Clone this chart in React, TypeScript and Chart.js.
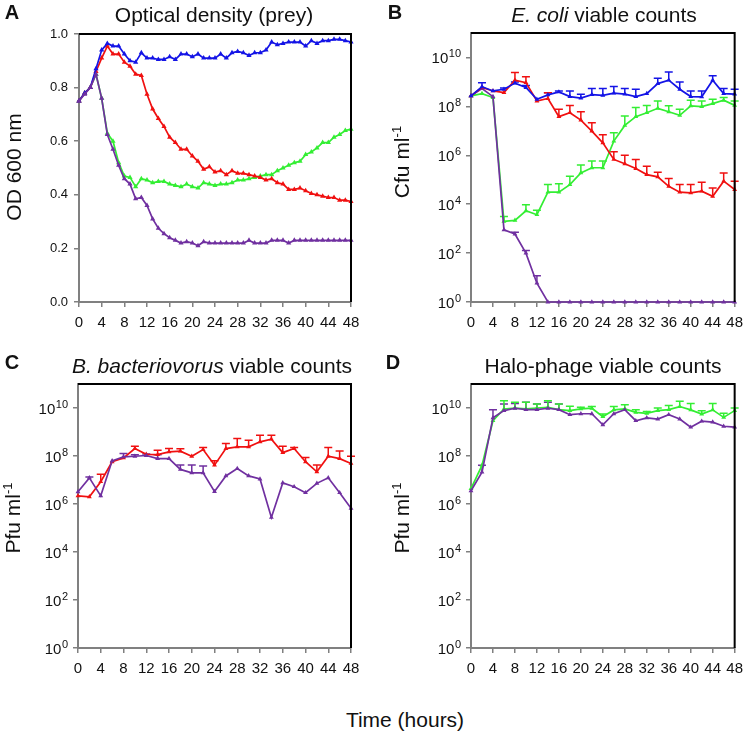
import React, { useEffect, useRef } from 'react';
import { Chart, registerables } from 'chart.js';
Chart.register(...registerables);

const FONT = '"Liberation Sans", Arial, Helvetica, sans-serif';

// ---------- Panel A: optical density (hourly) ----------
const hoursA = [0,1,2,3,4,5,6,7,8,9,10,11,12,13,14,15,16,17,18,19,20,21,22,23,24,25,26,27,28,29,30,31,32,33,34,35,36,37,38,39,40,41,42,43,44,45,46,47,48];
const odBlue = [0.75,0.78,0.80,0.87,0.94,0.965,0.955,0.955,0.925,0.90,0.895,0.93,0.91,0.91,0.905,0.905,0.915,0.905,0.925,0.925,0.915,0.925,0.91,0.91,0.91,0.925,0.91,0.93,0.935,0.93,0.92,0.93,0.93,0.94,0.97,0.96,0.965,0.97,0.97,0.97,0.955,0.975,0.965,0.975,0.975,0.98,0.98,0.975,0.97];
const odRed = [0.75,0.78,0.80,0.86,0.91,0.955,0.925,0.925,0.895,0.88,0.85,0.845,0.775,0.72,0.685,0.655,0.615,0.595,0.57,0.57,0.545,0.525,0.495,0.505,0.485,0.49,0.475,0.49,0.48,0.48,0.475,0.47,0.465,0.455,0.46,0.445,0.44,0.42,0.42,0.425,0.415,0.405,0.40,0.395,0.39,0.39,0.38,0.38,0.375];
const odGreen = [0.75,0.78,0.80,0.85,0.76,0.63,0.60,0.52,0.47,0.465,0.43,0.46,0.455,0.445,0.45,0.45,0.44,0.435,0.43,0.44,0.43,0.425,0.445,0.44,0.435,0.44,0.44,0.445,0.455,0.455,0.46,0.465,0.47,0.475,0.475,0.49,0.50,0.51,0.52,0.525,0.55,0.56,0.575,0.595,0.595,0.615,0.625,0.64,0.645];
const odPurple = [0.75,0.775,0.80,0.85,0.76,0.625,0.57,0.51,0.46,0.44,0.385,0.39,0.36,0.31,0.275,0.255,0.24,0.23,0.22,0.225,0.22,0.21,0.225,0.22,0.22,0.22,0.22,0.22,0.22,0.22,0.23,0.22,0.22,0.22,0.23,0.23,0.23,0.22,0.23,0.23,0.23,0.23,0.23,0.23,0.23,0.23,0.23,0.23,0.23];
const odTicks = [0, 0.2, 0.4, 0.6, 0.8, 1.0];

// ---------- Panels B-D: viable counts every 2 h (log10 values) ----------
const hours2 = [0,2,4,6,8,10,12,14,16,18,20,22,24,26,28,30,32,34,36,38,40,42,44,46,48];

// B: E. coli cfu/ml (log10)
const ecBlueLog = [8.43,8.80,8.63,8.70,8.95,8.77,8.29,8.47,8.59,8.40,8.34,8.48,8.45,8.54,8.50,8.40,8.52,8.93,9.07,8.70,8.40,8.39,9.07,8.52,8.50];
const ecBlueErrLog = [null,8.97,null,8.75,9.0,8.85,null,8.56,8.63,8.63,8.50,8.73,8.73,8.81,8.73,8.70,null,9.15,9.41,9.00,8.63,8.63,9.25,8.73,8.70];
const ecRedLog = [8.43,8.77,8.63,8.56,9.07,8.97,8.22,8.32,7.58,7.74,7.44,6.99,6.51,5.83,5.65,5.46,5.21,5.12,4.73,4.49,4.46,4.53,4.32,4.94,4.60];
const ecRedErrLog = [null,null,null,null,9.38,9.21,null,8.56,7.88,8.04,7.78,7.33,6.84,6.14,6.0,5.83,5.55,5.31,5.05,4.80,4.80,4.90,4.66,5.28,4.94];
const ecGreenLog = [8.43,8.52,8.36,3.30,3.34,3.73,3.57,4.49,4.49,4.80,5.28,5.49,5.49,6.58,7.22,7.58,7.74,7.92,7.78,7.63,8.02,7.99,8.11,8.25,8.04];
const ecGreenErrLog = [null,null,null,3.50,null,3.98,3.75,4.80,4.84,5.14,5.60,5.77,5.77,6.92,7.61,7.95,8.04,8.22,8.02,7.88,8.25,8.22,8.29,8.36,8.22];
const ecPurpleLog = [8.43,8.73,8.40,2.95,2.78,2.0,0.77,0,0,0,0,0,0,0,0,0,0,0,0,0,0,0,0,0,0];
const ecPurpleErrLog = [null,null,null,null,2.85,2.11,1.07,null,null,null,null,null,null,null,null,null,null,null,null,null,null,null,null,null,null];

// C: B. bacteriovorus pfu/ml (log10)
const bdRedLog = [6.34,6.30,6.93,7.76,7.92,8.31,8.07,8.06,8.17,8.20,7.99,8.27,7.62,8.31,8.38,8.38,8.59,8.70,8.14,8.31,7.76,7.34,7.99,7.89,7.69];
const bdRedErrLog = [null,null,7.24,null,null,8.41,null,8.24,8.31,8.30,null,8.35,7.80,8.52,8.73,8.66,8.86,8.86,8.41,8.35,7.94,7.62,8.35,8.21,7.99];
const bdPurpleLog = [6.51,7.09,6.34,7.80,7.96,7.99,8.02,7.89,7.89,7.44,7.30,7.30,6.52,7.17,7.48,7.17,7.04,5.44,6.88,6.72,6.47,6.86,7.09,6.47,5.82];
const bdPurpleErrLog = [null,7.13,null,null,8.10,8.05,8.08,8.05,null,7.62,7.62,7.58,null,null,null,null,null,null,null,null,null,null,null,null,null];

// D: Halo-phage pfu/ml (log10)
const phGreenLog = [6.64,7.61,9.47,9.96,10.0,9.96,10.0,10.03,9.93,9.89,9.96,9.99,9.64,9.92,9.96,9.82,9.78,9.89,9.93,10.06,9.92,9.75,9.92,9.61,9.89];
const phGreenErrLog = [null,null,null,10.30,10.24,10.24,10.17,10.30,10.17,10.07,10.03,10.06,9.75,10.06,10.14,9.93,9.85,10.0,10.1,10.28,10.19,9.89,10.19,9.78,10.0];
const phPurpleLog = [6.55,7.33,9.59,9.89,9.99,9.93,9.93,9.99,9.93,9.72,9.76,9.76,9.30,9.76,9.93,9.47,9.59,9.54,9.72,9.54,9.20,9.45,9.41,9.24,9.20];
const phPurpleErrLog = [null,7.61,9.93,10.17,10.19,10.24,10.17,10.24,10.17,null,null,null,null,null,null,null,null,null,null,null,null,null,null,null,null];

const logTickValues = [1, 1e2, 1e4, 1e6, 1e8, 1e10];
const timeTicks = [0,4,8,12,16,20,24,28,32,36,40,44,48];

const BLUE = '#1414e6';
const RED = '#f01010';
const GREEN = '#33ee33';
const PURPLE = '#7030a0';

function series(xs: number[], ys: number[], color: string, err?: (number | null)[], isLog = false, radius = 2.8) {
  const conv = (v: number) => (isLog ? Math.pow(10, v) : v);
  return {
    data: xs.map((x, i) => ({ x, y: conv(ys[i]) })),
    errTop: err ? err.map((e) => (e == null ? null : conv(e))) : null,
    borderColor: color,
    backgroundColor: color,
    borderWidth: 1.7,
    pointStyle: 'triangle',
    pointRadius: radius,
    pointBorderWidth: 0,
    pointHoverRadius: 0,
    tension: 0,
    clip: false,
  };
}

// error bars (upper only, with caps), black frame on top/right, and "10^n" log tick labels
const framePlugin = {
  id: 'frameAndErrors',
  beforeDatasetsDraw(chart: any) {
    const { ctx, scales } = chart;
    const xs = scales.x, ys = scales.y;
    chart.data.datasets.forEach((ds: any) => {
      if (!ds.errTop) return;
      ctx.save();
      ctx.strokeStyle = ds.borderColor;
      ctx.lineWidth = 1.5;
      ds.data.forEach((p: any, i: number) => {
        const e = ds.errTop[i];
        if (e == null) return;
        const x = xs.getPixelForValue(p.x);
        const y0 = ys.getPixelForValue(p.y);
        const y1 = ys.getPixelForValue(e);
        ctx.beginPath();
        ctx.moveTo(x, y0);
        ctx.lineTo(x, y1);
        ctx.moveTo(x - 4, y1);
        ctx.lineTo(x + 4, y1);
        ctx.stroke();
      });
      ctx.restore();
    });
  },
  afterDraw(chart: any) {
    const { ctx, chartArea, scales } = chart;
    ctx.save();
    ctx.strokeStyle = '#000';
    ctx.lineWidth = 2;
    ctx.beginPath();
    ctx.moveTo(chartArea.left, chartArea.top);
    ctx.lineTo(chartArea.right, chartArea.top);
    ctx.lineTo(chartArea.right, chartArea.bottom);
    ctx.stroke();

    const ys = scales.y;
    if (ys.type === 'logarithmic') {
      ctx.fillStyle = '#111';
      const right = chartArea.left - 10;
      logTickValues.forEach((v) => {
        const y = ys.getPixelForValue(v);
        const exp = String(Math.round(Math.log10(v)));
        const base = y + 5.5;
        ctx.font = `11px ${FONT}`;
        ctx.textAlign = 'right';
        ctx.textBaseline = 'alphabetic';
        const ew = ctx.measureText(exp).width;
        ctx.fillText(exp, right, base - 6);
        ctx.font = `15px ${FONT}`;
        ctx.fillText('10', right - ew - 0.5, base);
      });
    }
    ctx.restore();
  },
};

function xScale(h: number) {
  return {
    type: 'linear',
    min: 0,
    max: 48,
    afterBuildTicks: (s: any) => { s.ticks = timeTicks.map((v) => ({ value: v })); },
    ticks: { autoSkip: false, maxRotation: 0, minRotation: 0, color: '#111', font: { size: 15, family: FONT }, padding: 7 },
    grid: { drawOnChartArea: false, drawTicks: true, tickLength: 5, color: '#808080', lineWidth: 1.5 },
    border: { display: true, color: '#808080', width: 2 },
    afterFit: (s: any) => { s.height = h; },
  };
}

function yLinear(w: number) {
  return {
    type: 'linear',
    min: 0,
    max: 1,
    afterBuildTicks: (s: any) => { s.ticks = odTicks.map((v) => ({ value: v })); },
    ticks: { color: '#111', font: { size: 13, family: FONT }, padding: 6, callback: (v: any) => Number(v).toFixed(1) },
    grid: { drawOnChartArea: false, drawTicks: true, tickLength: 5, color: '#808080', lineWidth: 1.5 },
    border: { display: true, color: '#808080', width: 2 },
    afterFit: (s: any) => { s.width = w; },
  };
}

function yLog(w: number) {
  return {
    type: 'logarithmic',
    min: 1,
    max: 1e11,
    afterBuildTicks: (s: any) => { s.ticks = logTickValues.map((v) => ({ value: v })); },
    ticks: { display: false },
    grid: { drawOnChartArea: false, drawTicks: true, tickLength: 5, color: '#808080', lineWidth: 1.5 },
    border: { display: true, color: '#808080', width: 2 },
    afterFit: (s: any) => { s.width = w; },
  };
}

function makeConfig(datasets: any[], y: any, x: any, padding: any) {
  return {
    type: 'line',
    data: { datasets },
    options: {
      responsive: false,
      animation: false,
      events: [],
      layout: { padding },
      plugins: { legend: { display: false }, tooltip: { enabled: false }, title: { display: false } },
      scales: { x, y },
    },
    plugins: [framePlugin],
  };
}

const configA = () => makeConfig(
  [
    series(hoursA, odPurple, PURPLE, undefined, false, 3),
    series(hoursA, odBlue, BLUE, undefined, false, 3),
    series(hoursA, odRed, RED, undefined, false, 3),
    series(hoursA, odGreen, GREEN, undefined, false, 3),
  ],
  yLinear(79), xScale(43), { top: 34, right: 24, left: 0, bottom: 0 }
);

const configB = () => makeConfig(
  [
    series(hours2, ecBlueLog, BLUE, ecBlueErrLog, true),
    series(hours2, ecRedLog, RED, ecRedErrLog, true),
    series(hours2, ecPurpleLog, PURPLE, ecPurpleErrLog, true),
    series(hours2, ecGreenLog, GREEN, ecGreenErrLog, true),
  ],
  yLog(96), xScale(43), { top: 33, right: 11, left: 0, bottom: 0 }
);

const configC = () => makeConfig(
  [
    series(hours2, bdPurpleLog, PURPLE, bdPurpleErrLog, true),
    series(hours2, bdRedLog, RED, bdRedErrLog, true),
  ],
  yLog(78), xScale(42), { top: 39, right: 24, left: 0, bottom: 0 }
);

const configD = () => makeConfig(
  [
    series(hours2, phPurpleLog, PURPLE, phPurpleErrLog, true),
    series(hours2, phGreenLog, GREEN, phGreenErrLog, true),
  ],
  yLog(96), xScale(42), { top: 39, right: 12, left: 0, bottom: 0 }
);

function Panel({ make, left, top }: { make: () => any; left: number; top: number }) {
  const ref = useRef<HTMLCanvasElement>(null);
  useEffect(() => {
    if (!ref.current) return;
    const chart = new Chart(ref.current, make());
    return () => chart.destroy();
  }, [make]);
  return (
    <canvas
      ref={ref}
      width={375}
      height={345}
      style={{ position: 'absolute', left, top, width: 375, height: 345 }}
    />
  );
}

const textBase: React.CSSProperties = {
  position: 'absolute',
  fontFamily: FONT,
  color: '#111',
  whiteSpace: 'nowrap',
  lineHeight: 1,
};

function Label({ x, y, size, bold, rotate, children }: any) {
  return (
    <div
      style={{
        ...textBase,
        left: x,
        top: y,
        fontSize: size,
        fontWeight: bold ? 'bold' : 'normal',
        transform: rotate ? 'translate(-50%, -50%) rotate(-90deg)' : 'translate(-50%, -50%)',
      }}
    >
      {children}
    </div>
  );
}

const supStyle: React.CSSProperties = { fontSize: '0.62em', verticalAlign: '0.55em', lineHeight: 0 };

export default function App() {
  return (
    <div style={{ position: 'absolute', left: 0, top: 0, width: 750, height: 733, background: '#fff', overflow: 'hidden' }}>
      <Panel make={configA} left={0} top={0} />
      <Panel make={configB} left={375} top={0} />
      <Panel make={configC} left={0} top={345} />
      <Panel make={configD} left={375} top={345} />

      <Label x={12} y={12} size={20} bold>A</Label>
      <Label x={395} y={12} size={20} bold>B</Label>
      <Label x={12} y={362} size={20} bold>C</Label>
      <Label x={393} y={362} size={20} bold>D</Label>

      <Label x={214} y={14} size={21}>Optical density (prey)</Label>
      <Label x={604} y={14} size={21}><i>E. coli</i> viable counts</Label>
      <Label x={212} y={365} size={21}><i>B. bacteriovorus</i> viable counts</Label>
      <Label x={603} y={365} size={21}>Halo-phage viable counts</Label>

      <Label x={13} y={167} size={21} rotate>OD 600 nm</Label>
      <Label x={401} y={162} size={21} rotate>Cfu ml<span style={supStyle}>-1</span></Label>
      <Label x={12} y={518} size={21} rotate>Pfu ml<span style={supStyle}>-1</span></Label>
      <Label x={401} y={518} size={21} rotate>Pfu ml<span style={supStyle}>-1</span></Label>

      <Label x={405} y={719} size={21}>Time (hours)</Label>
    </div>
  );
}
